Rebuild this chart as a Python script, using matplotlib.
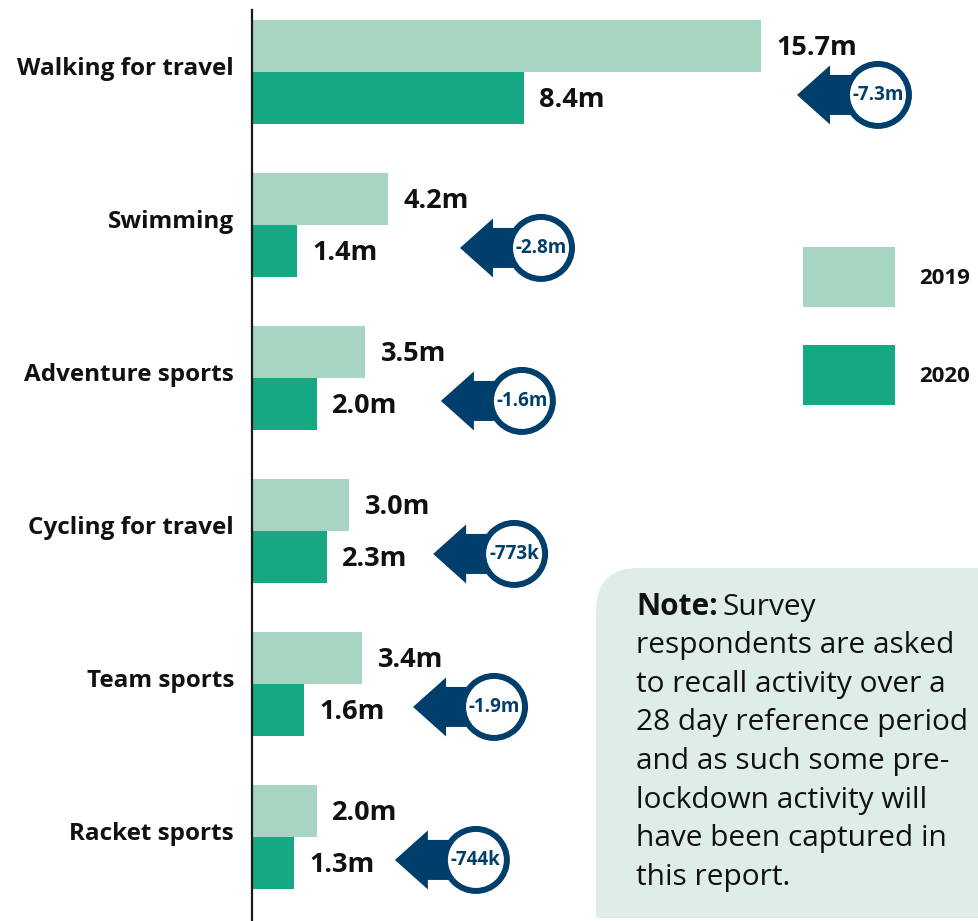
import matplotlib
matplotlib.use("Agg")
import matplotlib.pyplot as plt
from matplotlib.patches import Rectangle, FancyBboxPatch, Polygon, Circle
from matplotlib.transforms import ScaledTranslation

plt.rcParams['font.family'] = ['Open Sans', 'DejaVu Sans']

# data
activities = ['Walking for travel', 'Swimming', 'Adventure sports',
              'Cycling for travel', 'Team sports', 'Racket sports']
vals_2019 = [15.7, 4.2, 3.5, 3.0, 3.4, 2.0]
vals_2020 = [8.4, 1.4, 2.0, 2.3, 1.6, 1.3]
labels_2019 = ['15.7m', '4.2m', '3.5m', '3.0m', '3.4m', '2.0m']
labels_2020 = ['8.4m', '1.4m', '2.0m', '2.3m', '1.6m', '1.3m']
change_labels = ['-7.3m', '-2.8m', '-1.6m', '-773k', '-1.9m', '-744k']
# x position (in millions) of each change badge
badge_x = [19.32, 8.92, 8.33, 8.09, 7.47, 6.91]

c19 = '#a8d5c2'
c20 = '#15a882'
navy = '#003e6b'
ink = '#111111'

W, H = 979, 921
fig = plt.figure(figsize=(W / 100, H / 100), dpi=100)

# overlay axes in pixel units for legend + note
ov = fig.add_axes([0, 0, 1, 1], zorder=0)
ov.set_xlim(0, W)
ov.set_ylim(H, 0)
ov.axis('off')

# main bar axes
x0 = 252
ax = fig.add_axes([x0 / W, 0, 1 - x0 / W, 1], zorder=1)
ax.patch.set_alpha(0)
scale = 32.4  # px per million
ax.set_xlim(0, (W - x0) / scale)
gap = 153.0
top = 72.0
ax.set_ylim((H - top) / gap, -top / gap)
bh = 52 / gap

ys = list(range(len(activities)))
ax.barh([y - bh / 2 for y in ys], vals_2019, height=bh, color=c19, zorder=2)
ax.barh([y + bh / 2 for y in ys], vals_2020, height=bh, color=c20, zorder=2)

for s in ['top', 'right', 'bottom']:
    ax.spines[s].set_visible(False)
ax.spines['left'].set_linewidth(1.6)
ax.spines['left'].set_color('#1a1a1a')
ax.spines['left'].set_bounds((H - top) / gap, (10 - top) / gap)
ax.set_xticks([])
ax.set_yticks([])

for i, y in enumerate(ys):
    ax.annotate(activities[i], (0, y - 0.02), xytext=(-13, 0), textcoords='offset points',
                ha='right', va='center', fontsize=17.5, fontweight='bold', color=ink)
    ax.annotate(labels_2019[i], (vals_2019[i], y - bh / 2 + 0.01), xytext=(11, 0),
                textcoords='offset points', ha='left', va='center',
                fontsize=19.5, fontweight='bold', color=ink)
    ax.annotate(labels_2020[i], (vals_2020[i], y + bh / 2 + 0.01), xytext=(11, 0),
                textcoords='offset points', ha='left', va='center',
                fontsize=19.5, fontweight='bold', color=ink)

    # arrow + circle badge, drawn in inches around the badge centre
    tr = fig.dpi_scale_trans + ScaledTranslation(badge_x[i], y + bh / 2 - 0.02, ax.transData)
    arrow = [(-0.81, 0), (-0.48, 0.295), (-0.48, 0.20), (-0.2, 0.20),
             (-0.2, -0.20), (-0.48, -0.20), (-0.48, -0.295)]
    ax.add_patch(Polygon(arrow, closed=True, transform=tr, facecolor=navy,
                         edgecolor='none', zorder=3))
    ax.add_patch(Circle((0, 0), 0.31, transform=tr, facecolor='white',
                        edgecolor=navy, linewidth=4.3, zorder=4))
    ax.text(0, 0, change_labels[i], transform=tr, ha='center', va='center',
            fontsize=13.5, fontweight='bold', color=navy, zorder=5)

# legend
ov.add_patch(Rectangle((803, 247), 92, 60, facecolor=c19, edgecolor='none'))
ov.add_patch(Rectangle((803, 345), 92, 60, facecolor=c20, edgecolor='none'))
ov.text(919, 278, '2019', ha='left', va='center', fontsize=16, fontweight='bold', color=ink)
ov.text(919, 376, '2020', ha='left', va='center', fontsize=16, fontweight='bold', color=ink)

# note box
note_bg = '#deeee6'
ov.add_patch(FancyBboxPatch((596, 568), 500, 350, boxstyle='round,pad=0,rounding_size=42',
                            facecolor=note_bg, edgecolor='none'))
ov.add_patch(Rectangle((596, 800), 500, 118, facecolor=note_bg, edgecolor='none'))

note_lines = ['Survey', 'respondents are asked', 'to recall activity over a',
              '28 day reference period', 'and as such some pre-',
              'lockdown activity will', 'have been captured in', 'this report.']
fig.canvas.draw()
renderer = fig.canvas.get_renderer()
t = ov.text(636, 607, 'Note:', ha='left', va='center', fontsize=21.5,
            fontweight='bold', color=ink)
bb = t.get_window_extent(renderer)
ov.text(636 + bb.width + 5, 607, note_lines[0], ha='left', va='center',
        fontsize=21.5, color=ink)
for k, line in enumerate(note_lines[1:], start=1):
    ov.text(636, 607 + k * 38.6, line, ha='left', va='center', fontsize=21.5, color=ink)

fig.savefig('out.png', dpi=100)
